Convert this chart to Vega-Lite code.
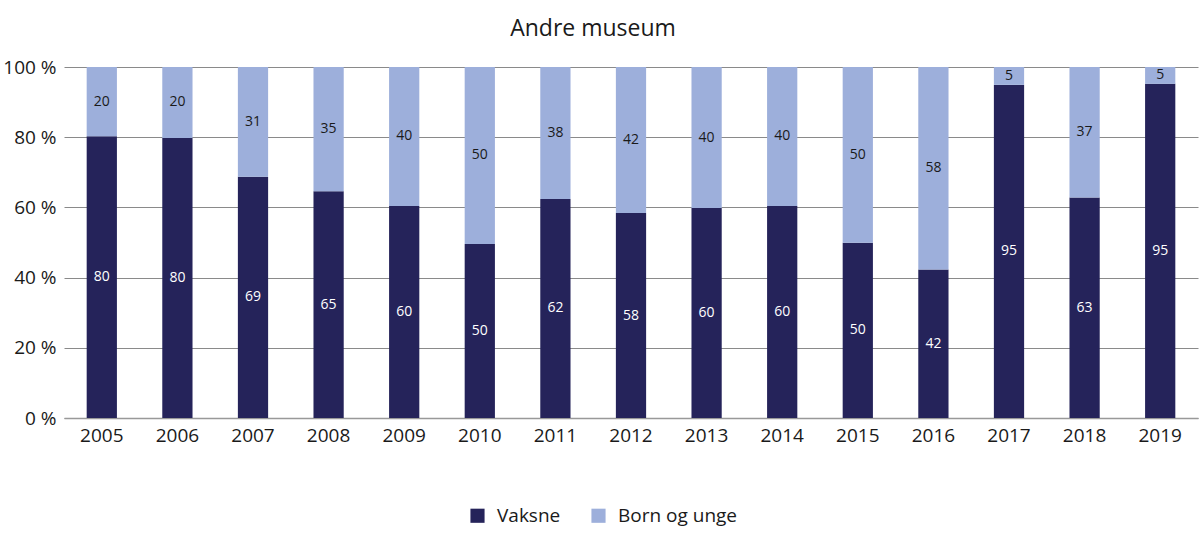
{
  "$schema": "https://vega.github.io/schema/vega-lite/v6.json",
  "width": 1134,
  "height": 351,
  "autosize": {"type": "none"},
  "padding": {"left": 64, "top": 67, "right": 2, "bottom": 124},
  "background": "white",
  "title": {"text": "Andre museum", "font": "Open Sans", "fontSize": 23, "fontWeight": "normal", "color": "#1a1a1a", "offset": 17, "dx": -38, "anchor": "middle"},
  "config": {"view": {"stroke": null}},
  "data": {"values": [
    {"year": "2005", "group": "Vaksne", "k": 1, "value": 80.3}, {"year": "2005", "group": "Born og unge", "k": 2, "value": 19.7},
    {"year": "2006", "group": "Vaksne", "k": 1, "value": 79.8}, {"year": "2006", "group": "Born og unge", "k": 2, "value": 20.2},
    {"year": "2007", "group": "Vaksne", "k": 1, "value": 68.7}, {"year": "2007", "group": "Born og unge", "k": 2, "value": 31.3},
    {"year": "2008", "group": "Vaksne", "k": 1, "value": 64.6}, {"year": "2008", "group": "Born og unge", "k": 2, "value": 35.4},
    {"year": "2009", "group": "Vaksne", "k": 1, "value": 60.4}, {"year": "2009", "group": "Born og unge", "k": 2, "value": 39.6},
    {"year": "2010", "group": "Vaksne", "k": 1, "value": 49.6}, {"year": "2010", "group": "Born og unge", "k": 2, "value": 50.4},
    {"year": "2011", "group": "Vaksne", "k": 1, "value": 62.4}, {"year": "2011", "group": "Born og unge", "k": 2, "value": 37.6},
    {"year": "2012", "group": "Vaksne", "k": 1, "value": 58.4}, {"year": "2012", "group": "Born og unge", "k": 2, "value": 41.6},
    {"year": "2013", "group": "Vaksne", "k": 1, "value": 59.8}, {"year": "2013", "group": "Born og unge", "k": 2, "value": 40.2},
    {"year": "2014", "group": "Vaksne", "k": 1, "value": 60.4}, {"year": "2014", "group": "Born og unge", "k": 2, "value": 39.6},
    {"year": "2015", "group": "Vaksne", "k": 1, "value": 49.9}, {"year": "2015", "group": "Born og unge", "k": 2, "value": 50.1},
    {"year": "2016", "group": "Vaksne", "k": 1, "value": 42.3}, {"year": "2016", "group": "Born og unge", "k": 2, "value": 57.7},
    {"year": "2017", "group": "Vaksne", "k": 1, "value": 94.9}, {"year": "2017", "group": "Born og unge", "k": 2, "value": 5.1},
    {"year": "2018", "group": "Vaksne", "k": 1, "value": 62.8}, {"year": "2018", "group": "Born og unge", "k": 2, "value": 37.2},
    {"year": "2019", "group": "Vaksne", "k": 1, "value": 95.2}, {"year": "2019", "group": "Born og unge", "k": 2, "value": 4.8}
  ]},
  "transform": [
    {"stack": "value", "groupby": ["year"], "sort": [{"field": "k", "order": "ascending"}], "as": ["v0", "v1"]},
    {"calculate": "(datum.v0 + datum.v1) / 2", "as": "mid"}
  ],
  "encoding": {
    "x": {"field": "year", "type": "ordinal", "title": null,
      "scale": {"paddingInner": 0.6, "paddingOuter": 0.3},
      "axis": {"labelAngle": 0, "labelFont": "Open Sans", "labelFontSize": 19, "labelColor": "#1a1a1a", "ticks": false, "domain": true, "domainColor": "#999999", "domainWidth": 1.5, "labelPadding": 8}}
  },
  "layer": [
    {
      "mark": {"type": "bar"},
      "encoding": {
        "y": {"field": "v1", "type": "quantitative", "title": null,
          "scale": {"domain": [0, 100], "nice": false},
          "axis": {"values": [0, 20, 40, 60, 80, 100], "labelExpr": "datum.value + ' %'", "labelFont": "Open Sans", "labelFontSize": 19, "labelColor": "#1a1a1a", "ticks": false, "domain": false, "grid": true, "gridColor": "#8a8a8a", "gridWidth": 1, "labelPadding": 8}},
        "y2": {"field": "v0"},
        "color": {"field": "group", "type": "nominal", "title": null,
          "scale": {"domain": ["Vaksne", "Born og unge"], "range": ["#25235a", "#9dafdb"]},
          "legend": {"orient": "none", "legendX": 404, "legendY": 439, "direction": "horizontal", "symbolType": "square", "symbolSize": 200, "symbolStrokeWidth": 0, "labelFont": "Open Sans", "labelFontSize": 19, "labelColor": "#1a1a1a", "columnPadding": 28, "labelOffset": 10}}
      }
    },
    {
      "mark": {"type": "text", "font": "Open Sans", "fontSize": 14, "baseline": "middle", "align": "center"},
      "encoding": {
        "y": {"field": "mid", "type": "quantitative"},
        "text": {"field": "value", "type": "quantitative", "format": ".0f"},
        "color": {"field": "group", "type": "nominal", "scale": {"domain": ["Vaksne", "Born og unge"], "range": ["#ffffff", "#1a1a1a"]}, "legend": null}
      }
    }
  ],
  "resolve": {"scale": {"color": "independent"}}
}
